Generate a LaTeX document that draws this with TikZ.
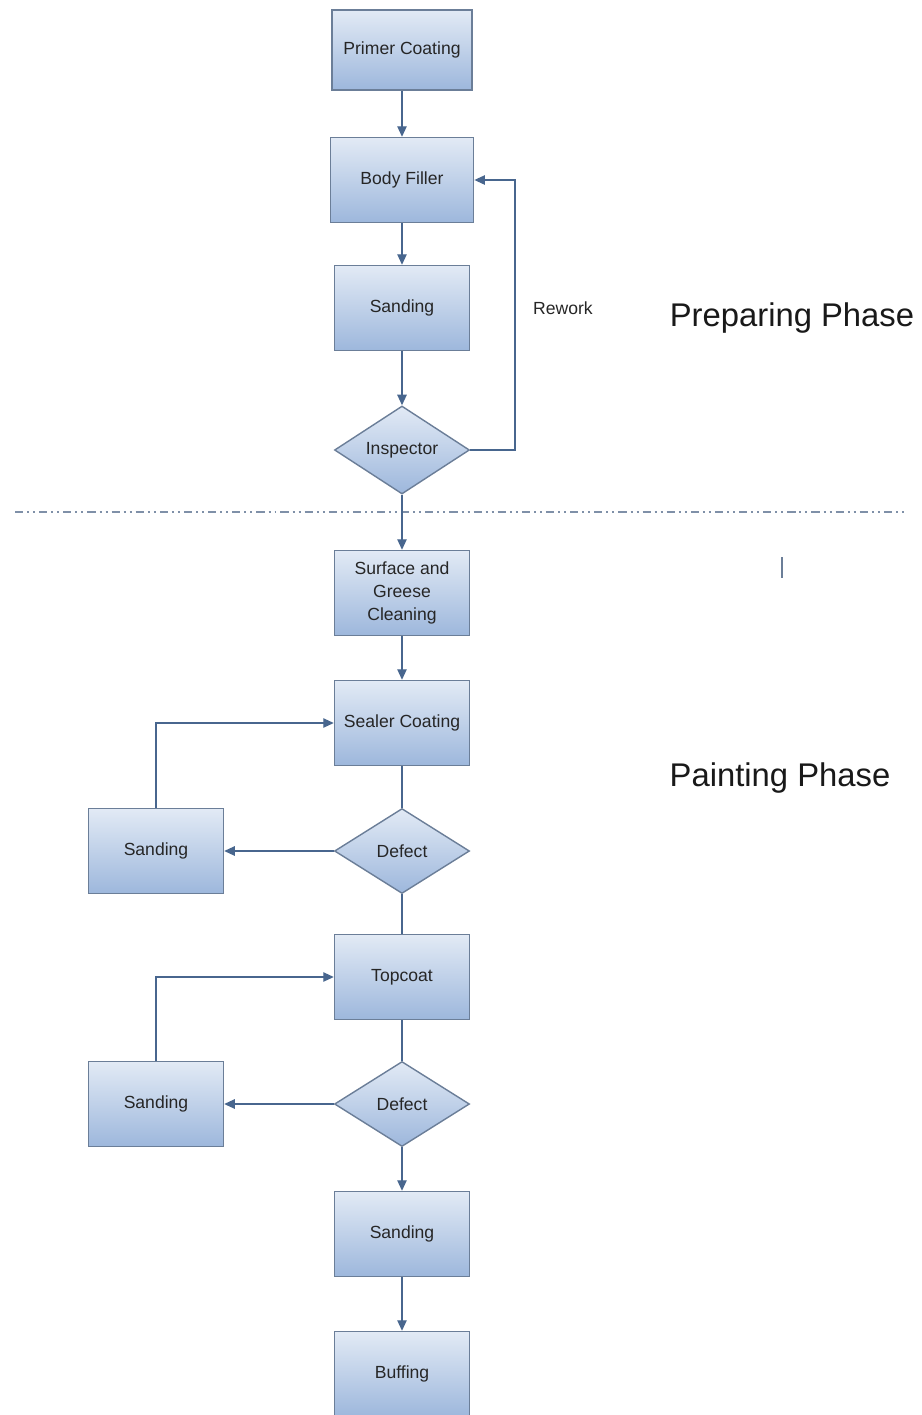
\documentclass[tikz,border=0pt]{standalone}
\usepackage{fontspec}
\setmainfont{Liberation Sans}
\usetikzlibrary{positioning}
\usetikzlibrary{shapes.geometric, arrows.meta}
\definecolor{boxtop}{HTML}{E2EAF5}
\definecolor{boxbot}{HTML}{9DB7DC}
\definecolor{boxline}{HTML}{6B7E98}
\definecolor{flowline}{HTML}{48668E}
\definecolor{phaseline}{HTML}{7F90A8}

\begin{document}
\begin{tikzpicture}[x=0.03cm,y=-0.03cm]
    \tikzset{base/.style = {draw=boxline, line width=1.2pt,
                           top color=boxtop, bottom color=boxbot,
                           text=black!85, align=center,
                           font=\fontsize{15}{19.6}\selectfont}}
    \tikzset{process/.style = {base, rectangle, minimum width=4.05cm, minimum height=2.55cm}}
    \tikzset{decision/.style = {base, diamond, inner sep=0pt, minimum width=4.05cm, minimum height=2.55cm}}
    \tikzset{flow/.style = {draw=flowline, line width=1.2pt, >={Triangle[length=9pt,width=8pt]}}}
    \tikzset{phase/.style = {font=\fontsize{28}{32}\selectfont, text=black!90}}

    \useasboundingbox (0,0) rectangle (922,1415);

    % preparing phase
    \node (primer) [process, minimum width=4.2cm, minimum height=2.4cm] at (402,50) {Primer Coating};
    \node (filler) [process, minimum width=4.3cm] at (402,180) {Body Filler};
    \node (sand1) [process] at (402,308) {Sanding};
    \node (insp) [decision] at (402,450) {Inspector};
    \coordinate (rw) at (515,450);
    \node (rework) [font=\fontsize{15}{18}\selectfont, text=black!85] at (563,308) {Rework};
    \node (prep) [phase] at (792,318) {Preparing Phase};

    % separator
    \coordinate (sepL) at (15,512);
    \coordinate (sepR) at (905,512);
    \draw[phaseline, line width=2.4pt, dash pattern=on 7pt off 3.4pt on 1.7pt off 3.4pt on 1.7pt off 3.4pt] (sepL) -- (sepR);

    % painting phase
    \node (clean) [process] at (402,593) {Surface and\\Greese\\Cleaning};
    \node (sealer) [process] at (402,723) {Sealer Coating};
    \node (defect1) [decision] at (402,851) {Defect};
    \node (sand2) [process] at (156,851) {Sanding};
    \node (top) [process] at (402,977) {Topcoat};
    \node (defect2) [decision] at (402,1104) {Defect};
    \node (sand3) [process] at (156,1104) {Sanding};
    \node (sand4) [process] at (402,1234) {Sanding};
    \node (buff) [process] at (402,1374) {Buffing};
    \node (paint) [phase] at (780,778) {Painting Phase};
    \coordinate (cursorA) at (782,557);
    \coordinate (cursorB) at (782,578);
    \draw[boxline, line width=1.3pt] (cursorA) -- (cursorB);

    \draw[flow,->] (primer) -- (filler);
    \draw[flow,->] (filler) -- (sand1);
    \draw[flow,->] (sand1) -- (insp);
    \draw[flow,->] (insp.east) -- (rw) |- (filler.east);
    \draw[flow,->] (insp) -- (clean);
    \draw[flow,->] (clean) -- (sealer);
    \draw[flow] (sealer) -- (defect1);
    \draw[flow,->] (defect1.west) -- (sand2.east);
    \draw[flow,->] (sand2.north) |- (sealer.west);
    \draw[flow] (defect1) -- (top);
    \draw[flow] (top) -- (defect2);
    \draw[flow,->] (defect2.west) -- (sand3.east);
    \draw[flow,->] (sand3.north) |- (top.west);
    \draw[flow,->] (defect2) -- (sand4);
    \draw[flow,->] (sand4) -- (buff);

\end{tikzpicture}
\end{document}
